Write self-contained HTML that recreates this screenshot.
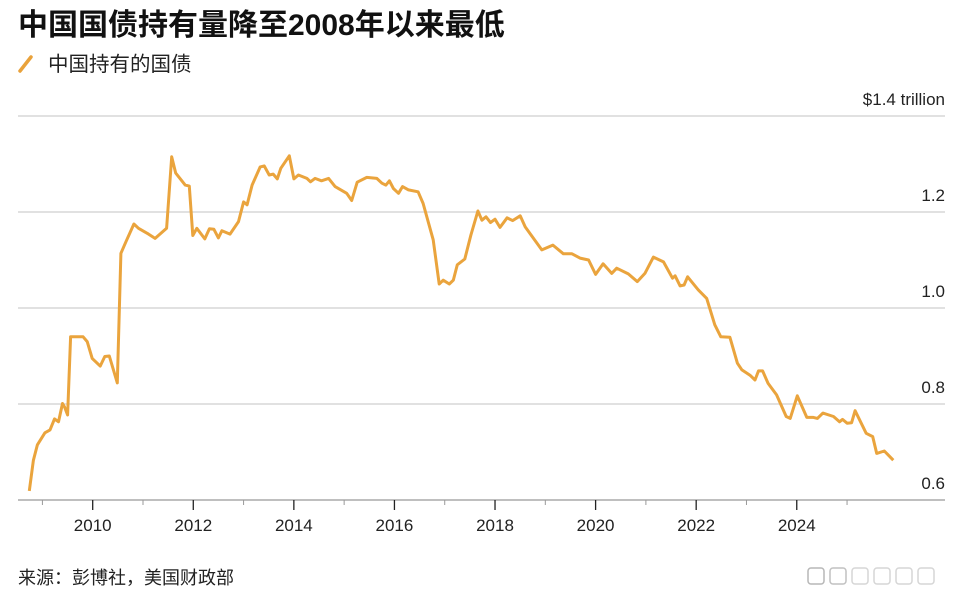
<!DOCTYPE html>
<html><head><meta charset="utf-8">
<style>
body{margin:0;background:#fff;width:968px;height:602px;overflow:hidden;font-family:"Liberation Sans","Noto Sans CJK SC",sans-serif;}
svg{display:block}
</style></head>
<body>
<svg id="chart" width="968" height="602">
  <text x="18" y="35" font-size="30" font-weight="bold" fill="#111" font-family="'Liberation Sans','Noto Sans CJK SC',sans-serif">中国国债持有量降至2008年以来最低</text>
  <g>
    <line x1="20" y1="71" x2="31" y2="57" stroke="#E9A23B" stroke-width="3.5" stroke-linecap="round"/>
    <text x="48" y="71" font-size="20.5" fill="#222" font-family="'Liberation Sans','Noto Sans CJK SC',sans-serif">中国持有的国债</text>
  </g>
  <g id="grid"></g>
  <g id="ylabels"></g>
  <g id="xaxis"></g>
  <path id="line" fill="none" stroke="#EAA43D" stroke-width="3" stroke-linejoin="round"/>
  <text x="18" y="584" font-size="18" fill="#222" font-family="'Liberation Sans','Noto Sans CJK SC',sans-serif">来源：彭博社，美国财政部</text>
  <g opacity="0.6">
    <rect x="808" y="568" width="16" height="16" rx="3" fill="none" stroke="#888" stroke-width="1.5"/>
    <rect x="830" y="568" width="16" height="16" rx="3" fill="none" stroke="#999" stroke-width="1.5"/>
    <rect x="852" y="568" width="16" height="16" rx="3" fill="none" stroke="#bbb" stroke-width="1.5"/>
    <rect x="874" y="568" width="16" height="16" rx="3" fill="none" stroke="#bbb" stroke-width="1.5"/>
    <rect x="896" y="568" width="16" height="16" rx="3" fill="none" stroke="#bbb" stroke-width="1.5"/>
    <rect x="918" y="568" width="16" height="16" rx="3" fill="none" stroke="#bbb" stroke-width="1.5"/>
  </g>
</svg>
<script>
const years = [2008.74,2008.82,2008.90,2009.05,2009.15,2009.24,2009.32,2009.40,2009.44,2009.50,2009.56,2009.81,2009.89,2009.99,2010.15,2010.24,2010.33,2010.49,2010.56,2010.66,2010.82,2010.91,2011.11,2011.24,2011.47,2011.57,2011.65,2011.84,2011.92,2011.99,2012.07,2012.23,2012.32,2012.41,2012.50,2012.57,2012.73,2012.90,2013.00,2013.07,2013.17,2013.33,2013.41,2013.51,2013.59,2013.67,2013.74,2013.91,2014.00,2014.09,2014.26,2014.33,2014.42,2014.55,2014.69,2014.82,2015.05,2015.15,2015.26,2015.45,2015.65,2015.75,2015.83,2015.90,2015.98,2016.08,2016.16,2016.28,2016.47,2016.57,2016.77,2016.89,2016.97,2017.09,2017.17,2017.25,2017.40,2017.52,2017.66,2017.74,2017.82,2017.91,2018.00,2018.10,2018.24,2018.35,2018.50,2018.60,2018.93,2019.15,2019.36,2019.53,2019.69,2019.86,2020.00,2020.15,2020.32,2020.42,2020.65,2020.83,2020.98,2021.15,2021.35,2021.53,2021.58,2021.68,2021.76,2021.83,2022.04,2022.21,2022.37,2022.49,2022.67,2022.82,2022.91,2023.07,2023.17,2023.24,2023.32,2023.43,2023.60,2023.79,2023.87,2024.01,2024.20,2024.33,2024.41,2024.52,2024.73,2024.85,2024.91,2025.00,2025.09,2025.16,2025.38,2025.51,2025.59,2025.74,2025.92];
const holdings = [0.619,0.683,0.715,0.740,0.746,0.769,0.763,0.801,0.794,0.777,0.940,0.940,0.930,0.895,0.879,0.899,0.900,0.844,1.114,1.138,1.175,1.166,1.154,1.145,1.166,1.315,1.281,1.256,1.254,1.151,1.166,1.144,1.165,1.164,1.146,1.161,1.154,1.180,1.221,1.215,1.256,1.294,1.296,1.277,1.279,1.269,1.291,1.317,1.269,1.277,1.270,1.263,1.270,1.265,1.270,1.253,1.239,1.224,1.262,1.272,1.270,1.260,1.256,1.265,1.249,1.239,1.253,1.246,1.242,1.218,1.142,1.050,1.058,1.050,1.058,1.090,1.102,1.152,1.202,1.183,1.190,1.178,1.185,1.168,1.188,1.182,1.192,1.169,1.121,1.131,1.113,1.113,1.104,1.100,1.070,1.092,1.072,1.083,1.071,1.055,1.072,1.106,1.096,1.062,1.067,1.046,1.048,1.065,1.038,1.020,0.965,0.940,0.939,0.885,0.871,0.860,0.850,0.869,0.869,0.843,0.819,0.774,0.770,0.817,0.772,0.772,0.770,0.781,0.774,0.763,0.768,0.760,0.761,0.786,0.739,0.732,0.697,0.702,0.683];
const yTicks = [0.6,0.8,1.0,1.2,1.4];
const yTickLabels = ["0.6","0.8","1.0","1.2","$1.4 trillion"];
const xMajorTicks = [2010,2012,2014,2016,2018,2020,2022,2024];
const xMinorTicks = [2009,2011,2013,2015,2017,2019,2021,2023,2025];

const NS="http://www.w3.org/2000/svg";
function X(yr){return 92.7+(yr-2010)*50.29;}
function Y(v){return 500-(v-0.6)*480;}
function mk(tag,attrs,parent){const e=document.createElementNS(NS,tag);for(const k in attrs)e.setAttribute(k,attrs[k]);parent.appendChild(e);return e;}

const grid=document.getElementById('grid'), yl=document.getElementById('ylabels'), xa=document.getElementById('xaxis');
yTicks.forEach((t,i)=>{
  const ln=mk('line',{x1:18,x2:945,y1:Y(t),y2:Y(t),stroke:i===0?'#aaa':'#cfcfcf','stroke-width':i===0?1.5:1.2},grid);
  
  
  const tx=mk('text',{x:945,y:Y(t)-11,'text-anchor':'end','font-size':17,fill:'#222'},yl);
  tx.textContent=yTickLabels[i];
  
  
});
xMajorTicks.forEach(t=>{
  const tk=mk('line',{x1:X(t),x2:X(t),y1:500,y2:510,stroke:'#222','stroke-width':1.3},xa);
  
  
  const tx=mk('text',{x:X(t),y:531,'text-anchor':'middle','font-size':17,fill:'#222'},xa);
  tx.textContent=String(t);
  
  
});
xMinorTicks.forEach(t=>{
  const tk=mk('line',{x1:X(t),x2:X(t),y1:500,y2:505,stroke:'#999','stroke-width':1},xa);
  
  
});
document.getElementById('line').setAttribute('d',years.map((y,i)=>(i?'L':'M')+X(y).toFixed(1)+','+Y(holdings[i]).toFixed(1)).join(''));
</script>
</body></html>
